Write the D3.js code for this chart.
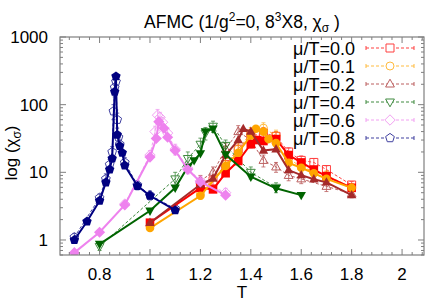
<!DOCTYPE html>
<html lang="en">
<head>
<meta charset="UTF-8">
<title>AFMC chi_sigma</title>
<script src="https://d3js.org/d3.v7.min.js"></script>
<style>
  body { margin: 0; background: #fff; }
  text { font-family: "Liberation Sans", Arial, sans-serif; fill: #000; }
</style>
</head>
<body>
<script>
// mu/T values and series data (filled = solid line, open = dashed with error bars)
const muLabels = ["μ/T=0.0", "μ/T=0.1", "μ/T=0.2", "μ/T=0.4", "μ/T=0.6", "μ/T=0.8"];
const colors = ["#ff0000", "#ffa500", "#a52a2a", "#006400", "#ee82ee", "#000080"];
const shapes = ["square", "circle", "triUp", "triDown", "diamond", "pentagon"];

const filledT = [
  [1.0, 1.2, 1.25, 1.3, 1.35, 1.4, 1.425, 1.45, 1.5, 1.55, 1.6, 1.65, 1.7, 1.8],
  [1.0, 1.2, 1.3, 1.35, 1.4, 1.42, 1.45, 1.47, 1.5, 1.55, 1.6, 1.65, 1.7, 1.8],
  [1.0, 1.2, 1.25, 1.3, 1.35, 1.37, 1.4, 1.45, 1.5, 1.55, 1.6, 1.65, 1.7, 1.8],
  [0.8, 1.0, 1.1, 1.15, 1.175, 1.2, 1.22, 1.25, 1.3, 1.4, 1.5, 1.6],
  [0.7, 0.8, 0.9, 1.0, 1.025, 1.035, 1.055, 1.07, 1.1, 1.15, 1.2, 1.3],
  [0.7, 0.75, 0.8, 0.825, 0.84, 0.85, 0.86, 0.865, 0.87, 0.88, 0.89, 0.9, 0.95, 1.0, 1.1]
];
const filledV = [
  [1.8, 5.9, 5.6, 9.7, 14.7, 26, 30, 29, 31, 18, 14, 11, 8.8, 5.9],
  [1.5, 4.5, 12.4, 19.5, 35, 44, 40, 31, 27, 13.8, 11.7, 9.7, 8, 5.9],
  [1.8, 6.6, 8.1, 18, 30, 44, 40, 21, 22, 10.8, 9.1, 7.9, 7.1, 4.6],
  [0.87, 2.7, 5.9, 12, 15, 19, 40, 44, 18.3, 8.6, 5.8, 4.6],
  [0.65, 1.3, 3.3, 16.8, 31.6, 56, 45, 33, 21, 11, 7.2, 4.6],
  [1.0, 1.88, 3.8, 7.1, 11, 16, 155, 262, 36, 24.5, 19.5, 12.6, 6.3, 4.5, 2.76]
];

const openT = [
  [1.2, 1.25, 1.3, 1.35, 1.4, 1.45, 1.5, 1.55, 1.6, 1.65, 1.7, 1.8],
  [1.2, 1.3, 1.35, 1.4, 1.45, 1.5, 1.55, 1.6, 1.7, 1.8],
  [1.2, 1.25, 1.3, 1.35, 1.4, 1.45, 1.5, 1.55, 1.6, 1.7, 1.8],
  [0.8, 1.1, 1.15, 1.2, 1.22, 1.25, 1.3, 1.4, 1.5],
  [0.9, 1.0, 1.02, 1.03, 1.04, 1.05, 1.07, 1.1, 1.15, 1.2, 1.3],
  [0.7, 0.8, 0.825, 0.84, 0.85, 0.855, 0.86, 0.865, 0.87, 0.875, 0.88, 0.9, 0.95, 1.0, 1.1]
];
const openV = [
  [6.5, 7.5, 13, 22, 34, 38, 34, 20, 15, 14, 11, 6.5],
  [4.8, 13, 22, 38, 45, 35, 16, 12, 9, 6],
  [7.5, 10, 22, 40, 30, 15, 12, 9, 8, 6.2, 4.8],
  [0.8, 8, 16, 26, 38, 48, 25, 10, 6],
  [3.4, 18, 40, 70, 65, 55, 38, 22, 11.5, 7.5, 5.0],
  [1.1, 4.2, 8, 13, 20, 80, 180, 220, 60, 33, 26, 14, 6.5, 4.6, 2.9]
];
const openErr = [
  [1.2, 1.5, 3, 6, 9, 8, 6, 3, 2.5, 2, 1.5, 0.8],
  [0.8, 3, 5, 8, 9, 7, 3, 2, 1.5, 0.8],
  [1.5, 2, 5, 9, 7, 3, 2, 1.5, 1.2, 1, 0.6],
  [0.1, 2, 4, 6, 8, 9, 5, 2, 1],
  [0.4, 3, 8, 15, 12, 10, 7, 4, 2, 1.2, 0.8],
  [0.15, 0.6, 1.5, 2.5, 4, 20, 50, 60, 15, 6, 4, 2.5, 1, 0.7, 0.4]
];

const xMajor = [0.8, 1.0, 1.2, 1.4, 1.6, 1.8, 2.0];
const xLabels = ["0.8", "1", "1.2", "1.4", "1.6", "1.8", "2"];
const yMajor = [1, 10, 100, 1000];

const W = 436, H = 305;
const pLeft = 60, pRight = 424, pTop = 37, pBottom = 255;

const svg = d3.select("body").append("svg")
  .attr("width", W).attr("height", H);

const x = d3.scaleLinear().domain([0.643, 2.087]).range([pLeft, pRight]);
const y = d3.scaleLog().domain([0.6, 1000]).range([pBottom, pTop]);

// symbol path for each marker type
function shapePath(type, r) {
  if (type === "square") return `M${-r},${-r}h${2 * r}v${2 * r}h${-2 * r}Z`;
  if (type === "circle") return `M${r},0A${r},${r} 0 1,1 ${-r},0A${r},${r} 0 1,1 ${r},0Z`;
  if (type === "triUp") return `M0,${-r * 1.2}L${r * 1.1},${r * 0.75}L${-r * 1.1},${r * 0.75}Z`;
  if (type === "triDown") return `M0,${r * 1.2}L${r * 1.1},${-r * 0.75}L${-r * 1.1},${-r * 0.75}Z`;
  if (type === "diamond") return `M0,${-r * 1.3}L${r * 1.3},0L0,${r * 1.3}L${-r * 1.3},0Z`;
  const pts = d3.range(5).map(k => {
    const a = -Math.PI / 2 + k * 2 * Math.PI / 5;
    return [r * 1.15 * Math.cos(a), r * 1.15 * Math.sin(a)];
  });
  return "M" + pts.map(p => p.join(",")).join("L") + "Z";
}

svg.append("clipPath").attr("id", "clip")
  .append("rect").attr("x", pLeft).attr("y", pTop)
  .attr("width", pRight - pLeft).attr("height", pBottom - pTop);
const plot = svg.append("g").attr("clip-path", "url(#clip)");

const line = d3.line().x(d => x(d[0])).y(d => y(d[1]));

// open (dashed) series with error bars
openT.forEach((ts, i) => {
  const pts = ts.map((t, j) => [t, openV[i][j], openErr[i][j]]);
  const g = plot.append("g").attr("opacity", 0.75);
  g.append("path").attr("d", line(pts))
    .attr("fill", "none").attr("stroke", colors[i])
    .attr("stroke-width", 1).attr("stroke-dasharray", "3,2");
  pts.forEach(p => {
    const cx = x(p[0]);
    const y1 = y(p[1] + p[2]), y2 = y(Math.max(p[1] - p[2], 0.61));
    g.append("path")
      .attr("d", `M${cx},${y1}V${y2}M${cx - 2},${y1}h4M${cx - 2},${y2}h4`)
      .attr("stroke", colors[i]).attr("stroke-width", 0.8).attr("fill", "none");
    g.append("path").attr("d", shapePath(shapes[i], 4))
      .attr("transform", `translate(${cx},${y(p[1])})`)
      .attr("fill", "none").attr("stroke", colors[i]).attr("stroke-width", 1);
  });
});

// filled (solid) series
filledT.forEach((ts, i) => {
  const pts = ts.map((t, j) => [t, filledV[i][j]]);
  plot.append("path").attr("d", line(pts))
    .attr("fill", "none").attr("stroke", colors[i]).attr("stroke-width", 2);
  plot.selectAll(null).data(pts).enter().append("path")
    .attr("d", shapePath(shapes[i], 4.3))
    .attr("transform", d => `translate(${x(d[0])},${y(d[1])})`)
    .attr("fill", colors[i]);
});

// frame and ticks
const axisColor = "#7f7f7f";
svg.append("rect").attr("x", pLeft).attr("y", pTop)
  .attr("width", pRight - pLeft).attr("height", pBottom - pTop)
  .attr("fill", "none").attr("stroke", axisColor).attr("stroke-width", 1.2);

const tickG = svg.append("g").attr("stroke", axisColor).attr("stroke-width", 1);
const xMinor = d3.range(0.68, 2.087, 0.04);
xMinor.forEach(t => {
  const isMajor = xMajor.some(m => Math.abs(m - t) < 1e-6);
  const len = isMajor ? 6 : 3;
  tickG.append("line").attr("x1", x(t)).attr("x2", x(t)).attr("y1", pBottom).attr("y2", pBottom - len);
  tickG.append("line").attr("x1", x(t)).attr("x2", x(t)).attr("y1", pTop).attr("y2", pTop + len);
});
const yTicks = [];
[0.1, 1, 10, 100].forEach(dec => d3.range(1, 10).forEach(k => {
  const v = dec * k;
  if (v >= 0.6 && v <= 1000) yTicks.push(v);
}));
yTicks.push(1000);
yTicks.forEach(v => {
  const isMajor = yMajor.includes(v);
  const len = isMajor ? 6 : 3;
  tickG.append("line").attr("x1", pLeft).attr("x2", pLeft + len).attr("y1", y(v)).attr("y2", y(v));
  tickG.append("line").attr("x1", pRight).attr("x2", pRight - len).attr("y1", y(v)).attr("y2", y(v));
});

// tick labels
svg.selectAll(".xl").data(xMajor).enter().append("text")
  .attr("x", d => x(d)).attr("y", 280)
  .attr("text-anchor", "middle").attr("font-size", 17)
  .text((d, i) => xLabels[i]);
svg.selectAll(".yl").data(yMajor).enter().append("text")
  .attr("x", 48).attr("y", d => y(d) + 6)
  .attr("text-anchor", "end").attr("font-size", 17)
  .text(d => d);

// axis titles
svg.append("text").attr("x", 242).attr("y", 298)
  .attr("text-anchor", "middle").attr("font-size", 17).text("T");
const yl = svg.append("text")
  .attr("transform", "translate(17,153) rotate(-90)")
  .attr("text-anchor", "middle").attr("font-size", 17);
yl.append("tspan").text("log (χ");
yl.append("tspan").attr("font-size", 12).attr("dy", 4).text("σ");
yl.append("tspan").attr("dy", -4).text(")");

// title
const title = svg.append("text").attr("x", 242).attr("y", 28)
  .attr("text-anchor", "middle").attr("font-size", 17.5);
title.append("tspan").text("AFMC (1/g");
title.append("tspan").attr("font-size", 12).attr("dy", -7).text("2");
title.append("tspan").attr("dy", 7).text("=0, 8");
title.append("tspan").attr("font-size", 12).attr("dy", -7).text("3");
title.append("tspan").attr("dy", 7).text("X8, χ");
title.append("tspan").attr("font-size", 12).attr("dy", 4).text("σ");
title.append("tspan").attr("dy", -4).text(" )");

// legend
const legend = svg.append("g");
muLabels.forEach((lab, i) => {
  const ly = 48 + i * 18;
  legend.append("text").attr("x", 355).attr("y", ly + 6.5)
    .attr("text-anchor", "end").attr("font-size", 18).text(lab);
  const g = legend.append("g").attr("opacity", 0.75);
  g.append("path").attr("d", `M366,${ly}H414`)
    .attr("stroke", colors[i]).attr("stroke-width", 1)
    .attr("stroke-dasharray", "3,2").attr("fill", "none");
  g.append("path").attr("d", `M366,${ly - 2}v4M414,${ly - 2}v4`)
    .attr("stroke", colors[i]).attr("stroke-width", 1).attr("fill", "none");
  g.append("path").attr("d", shapePath(shapes[i], 4))
    .attr("transform", `translate(390,${ly})`)
    .attr("fill", "#fff").attr("stroke", colors[i]).attr("stroke-width", 1);
});
</script>
</body>
</html>
